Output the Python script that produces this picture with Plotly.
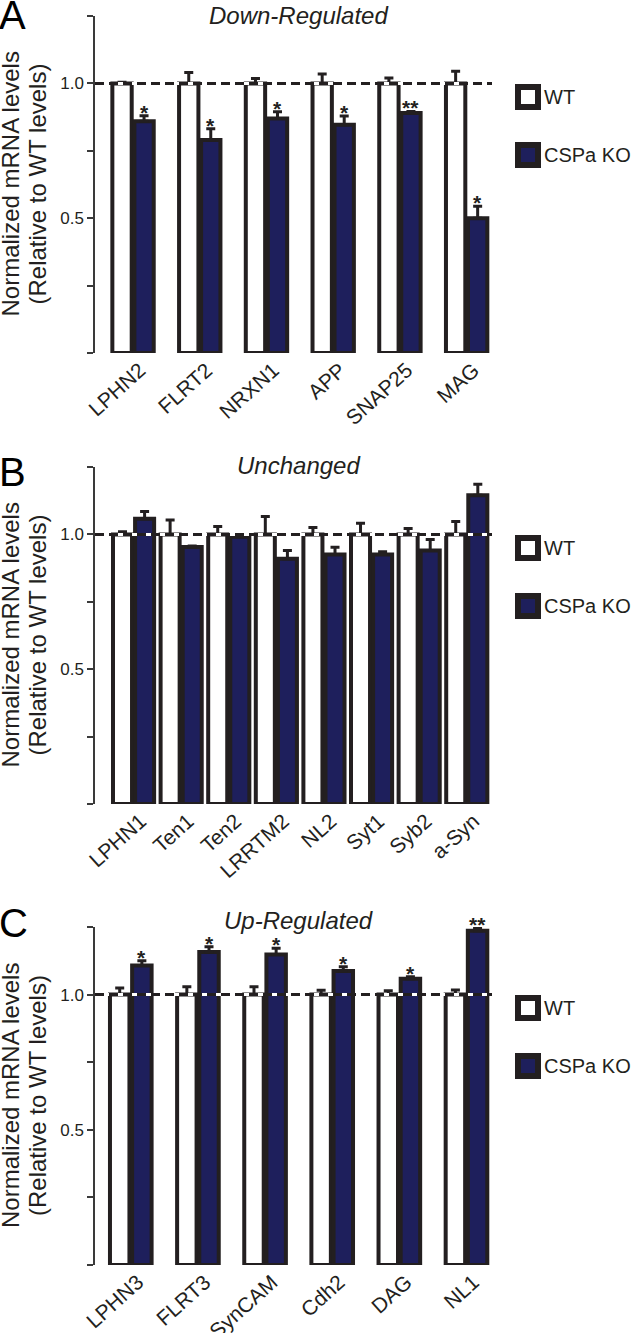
import plotly.graph_objects as go

W, H = 633, 1333
DARK = "#231f20"
NAVY = "#1e1f5c"
FONT = "Liberation Sans, Arial, sans-serif"

# ---------------- data ----------------
a_genes = ["LPHN2", "FLRT2", "NRXN1", "APP", "SNAP25", "MAG"]
a_wt = [1.0, 1.0, 1.0, 1.0, 1.0, 1.0]
a_wt_err = [0.004, 0.040, 0.018, 0.035, 0.020, 0.045]
a_ko = [0.860, 0.790, 0.870, 0.847, 0.890, 0.500]
a_ko_err = [0.020, 0.042, 0.025, 0.032, 0.006, 0.044]
a_sig = ["*", "*", "*", "*", "**", "*"]

b_genes = ["LPHN1", "Ten1", "Ten2", "LRRTM2", "NL2", "Syt1", "Syb2", "a-Syn"]
b_wt = [1.0, 1.0, 1.0, 1.0, 1.0, 1.0, 1.0, 1.0]
b_wt_err = [0.010, 0.053, 0.029, 0.066, 0.026, 0.041, 0.022, 0.048]
b_ko = [1.058, 0.953, 0.991, 0.910, 0.925, 0.925, 0.940, 1.145]
b_ko_err = [0.027, 0.004, 0.002, 0.030, 0.027, 0.011, 0.041, 0.041]
b_sig = ["", "", "", "", "", "", "", ""]

c_genes = ["LPHN3", "FLRT3", "SynCAM", "Cdh2", "DAG", "NL1"]
c_wt = [1.0, 1.0, 1.0, 1.0, 1.0, 1.0]
c_wt_err = [0.024, 0.029, 0.029, 0.016, 0.014, 0.017]
c_ko = [1.108, 1.158, 1.148, 1.087, 1.059, 1.236]
c_ko_err = [0.017, 0.019, 0.023, 0.016, 0.007, 0.010]
c_sig = ["*", "*", "*", "*", "*", "**"]

titles = ["Down-Regulated", "Unchanged", "Up-Regulated"]
letters = ["A", "B", "C"]
y_title_1 = "Normalized mRNA levels"
y_title_2 = "(Relative to WT levels)"
y_tickvals = [0, 0.25, 0.5, 0.75, 1.0, 1.25]
y_ticktext = ["", "", "0.5", "", "1.0", ""]

# ---------------- layout geometry (pixels) ----------------
X_LEFT, X_RIGHT = 95, 492
panels = [
    dict(genes=a_genes, wt=a_wt, wt_err=a_wt_err, ko=a_ko, ko_err=a_ko_err, sig=a_sig,
         top=16, bottom=353, xr=[-0.57, 5.38], w=0.29, off=0.165, title_y=15, letter_y=15),
    dict(genes=b_genes, wt=b_wt, wt_err=b_wt_err, ko=b_ko, ko_err=b_ko_err, sig=b_sig,
         top=467, bottom=804, xr=[-0.81, 7.53], w=0.40, off=0.232, title_y=466, letter_y=472),
    dict(genes=c_genes, wt=c_wt, wt_err=c_wt_err, ko=c_ko, ko_err=c_ko_err, sig=c_sig,
         top=927, bottom=1265, xr=[-0.533, 5.38], w=0.29, off=0.165, title_y=920, letter_y=923),
]


def px(x):
    return x / W


def py(y):
    return 1 - y / H


fig = go.Figure()
shapes = []
annotations = []
layout = {}

for k, p in enumerate(panels):
    sfx = "" if k == 0 else str(k + 1)
    xa, ya = "x" + sfx, "y" + sfx
    n = len(p["genes"])
    idx = list(range(n))
    x_wt = [i - p["off"] for i in idx]
    x_ko = [i + p["off"] for i in idx]

    fig.add_trace(go.Bar(
        x=x_wt, y=p["wt"], width=p["w"], xaxis=xa, yaxis=ya, name="WT", showlegend=False,
        marker=dict(color="white", line=dict(color=DARK, width=4)),
        error_y=dict(type="data", array=p["wt_err"], arrayminus=[0] * n, symmetric=False,
                     color=DARK, thickness=3, width=4.5),
    ))
    fig.add_trace(go.Bar(
        x=x_ko, y=p["ko"], width=p["w"], xaxis=xa, yaxis=ya, name="CSPa KO", showlegend=False,
        marker=dict(color=NAVY, line=dict(color=DARK, width=4)),
        error_y=dict(type="data", array=p["ko_err"], arrayminus=[0] * n, symmetric=False,
                     color=DARK, thickness=3, width=4.5),
    ))

    layout["xaxis" + sfx] = dict(
        domain=[px(X_LEFT), px(X_RIGHT)], range=p["xr"], anchor=ya, automargin=False,
        tickvals=idx, ticktext=p["genes"], tickangle=-42, ticklabelshift=7,
        showline=False, ticks="", showgrid=False, zeroline=False,
        tickfont=dict(family=FONT, size=21, color=DARK),
    )
    layout["yaxis" + sfx] = dict(
        domain=[py(p["bottom"]), py(p["top"])], range=[0, 1.25], anchor=xa, automargin=False,
        tickvals=y_tickvals, ticktext=y_ticktext,
        showline=True, linecolor="#3a3a3a", linewidth=1.5,
        ticks="outside", ticklen=6, tickwidth=1.5, tickcolor="#3a3a3a",
        showgrid=False, zeroline=False,
        tickfont=dict(family=FONT, size=17, color=DARK),
    )

    # dashed reference line at 1.0 (white gaps over the bars)
    shapes.append(dict(type="line", xref=xa + " domain", yref=ya, x0=0, x1=1, y0=1.0, y1=1.0,
                       line=dict(color="white", width=3), layer="above"))
    shapes.append(dict(type="line", xref=xa + " domain", yref=ya, x0=0, x1=1, y0=1.0, y1=1.0,
                       line=dict(color=DARK, width=3, dash="9px,5px"), layer="above"))

    # significance marks
    for i in idx:
        if p["sig"][i]:
            annotations.append(dict(
                x=x_ko[i], y=p["ko"][i] + p["ko_err"][i], xref=xa, yref=ya,
                text="<b>" + p["sig"][i] + "</b>", showarrow=False, yanchor="bottom",
                yshift=-10, font=dict(family=FONT, size=21, color=DARK)))

    # title
    annotations.append(dict(
        x=px(298), y=py(p["title_y"]), xref="paper", yref="paper", text="<i>" + titles[k] + "</i>",
        showarrow=False, xanchor="center", yanchor="middle",
        font=dict(family=FONT, size=24, color=DARK)))

    # panel letter
    annotations.append(dict(
        x=px(-3), y=py(p["letter_y"]), xref="paper", yref="paper", text=letters[k],
        showarrow=False, xanchor="left", yanchor="middle",
        font=dict(family=FONT, size=40, color="black")))

    # y-axis title (two lines)
    ymid = (p["top"] + p["bottom"]) / 2
    for txt, xc in [(y_title_1, 10), (y_title_2, 37)]:
        annotations.append(dict(
            x=px(xc), y=py(ymid), xref="paper", yref="paper", text=txt, textangle=-90,
            showarrow=False, xanchor="center", yanchor="middle",
            font=dict(family=FONT, size=24, color=DARK)))

    # legend
    lt = p["top"] + 68
    boxes = [("white", "WT", lt), (NAVY, "CSPa KO", lt + 58)]
    for fillc, label, y0 in boxes:
        shapes.append(dict(type="rect", xref="paper", yref="paper",
                           x0=px(518), x1=px(538), y0=py(y0 + 3), y1=py(y0 + 23),
                           fillcolor=fillc, line=dict(color=DARK, width=6)))
        annotations.append(dict(
            x=px(542), y=py(y0 + 13), xref="paper", yref="paper", text=label,
            showarrow=False, xanchor="left", yanchor="middle",
            font=dict(family=FONT, size=20, color=DARK)))

fig.update_layout(
    width=W, height=H,
    margin=dict(l=0, r=0, t=0, b=0, autoexpand=False),
    paper_bgcolor="white", plot_bgcolor="white",
    barmode="overlay", showlegend=False,
    shapes=shapes, annotations=annotations,
    **layout,
)

fig.write_html("out.html", config={"displayModeBar": False},
               post_script="document.body.style.margin='0px';")
